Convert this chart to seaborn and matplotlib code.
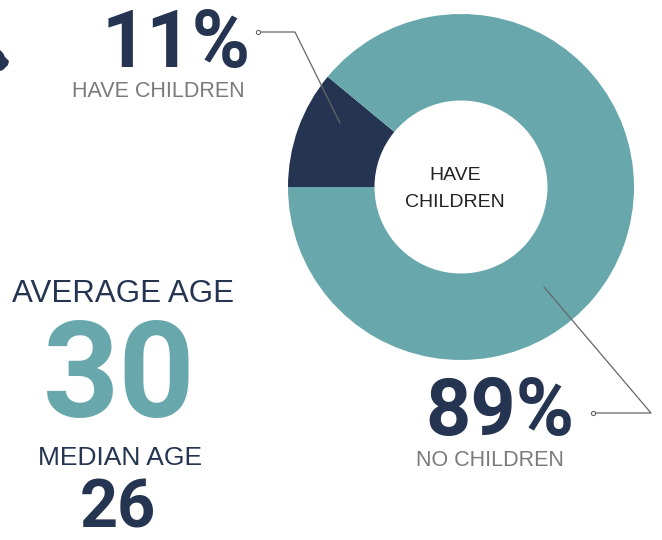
import matplotlib
matplotlib.use("Agg")
import matplotlib.pyplot as plt
import seaborn as sns

# data
labels = ["HAVE CHILDREN", "NO CHILDREN"]
shares = [11, 89]
avg_age = 30
median_age = 26

navy = "#253551"
teal = "#68a8ad"
grey = "#7a7a7a"

sns.set_theme(style="white")
plt.rcParams['font.family'] = ['Roboto', 'DejaVu Sans']
lab_font = ['Liberation Sans', 'DejaVu Sans']

fig = plt.figure(figsize=(6.62, 5.40), dpi=100)
ax = fig.add_axes([0, 0, 1, 1])

# donut
cx, cy, R = 461, 353, 173
ax.pie(shares, colors=[navy, teal], startangle=180, counterclock=False,
       center=(cx, cy), radius=R, frame=True,
       wedgeprops=dict(width=R * 0.5, linewidth=0))
ax.set_xlim(0, 662)
ax.set_ylim(0, 540)
ax.set_aspect('equal')
ax.axis('off')

# cut-off icon piece at the left edge
ax.fill([0, 3, 5, 9, 8, 3, 0], [490, 487, 483, 479, 475, 470, 469],
        color=navy, lw=0)

ax.text(cx - 6, cy + 7, "HAVE", ha='center', va='baseline', fontsize=14,
        color="#222222", family=lab_font)
ax.text(cx - 6, cy - 20, "CHILDREN", ha='center', va='baseline', fontsize=14,
        color="#222222", family=lab_font)

# 11% label
ax.text(176, 473, f"{shares[0]}%", ha='center', va='baseline', fontsize=57,
        color=navy, fontweight='bold')
ax.text(158, 443, labels[0], ha='center', va='baseline', fontsize=15.5,
        color=grey, family=lab_font)
ax.plot([258, 295, 340], [508, 508, 417], color='#666666', lw=0.9)
ax.plot([258], [508], 'o', ms=3, mfc='white', mec='#666666', mew=0.8)

# 89% label
ax.text(500, 105, f"{shares[1]}%", ha='center', va='baseline', fontsize=57,
        color=navy, fontweight='bold')
ax.text(490, 74, labels[1], ha='center', va='baseline', fontsize=15.5,
        color=grey, family=lab_font)
ax.plot([593, 651, 544], [127, 127, 253], color='#666666', lw=0.9)
ax.plot([593], [127], 'o', ms=3, mfc='white', mec='#666666', mew=0.8)

# ages
ax.text(123, 238, "AVERAGE AGE", ha='center', va='baseline', fontsize=22.5,
        color=navy, family=lab_font)
ax.text(119, 123, str(avg_age), ha='center', va='baseline', fontsize=96,
        color=teal, fontweight='bold')
ax.text(120, 75, "MEDIAN AGE", ha='center', va='baseline', fontsize=19,
        color=navy, family=lab_font)
ax.text(118, 13, str(median_age), ha='center', va='baseline', fontsize=48,
        color=navy, fontweight='bold')

fig.savefig("out.png", dpi=100)
